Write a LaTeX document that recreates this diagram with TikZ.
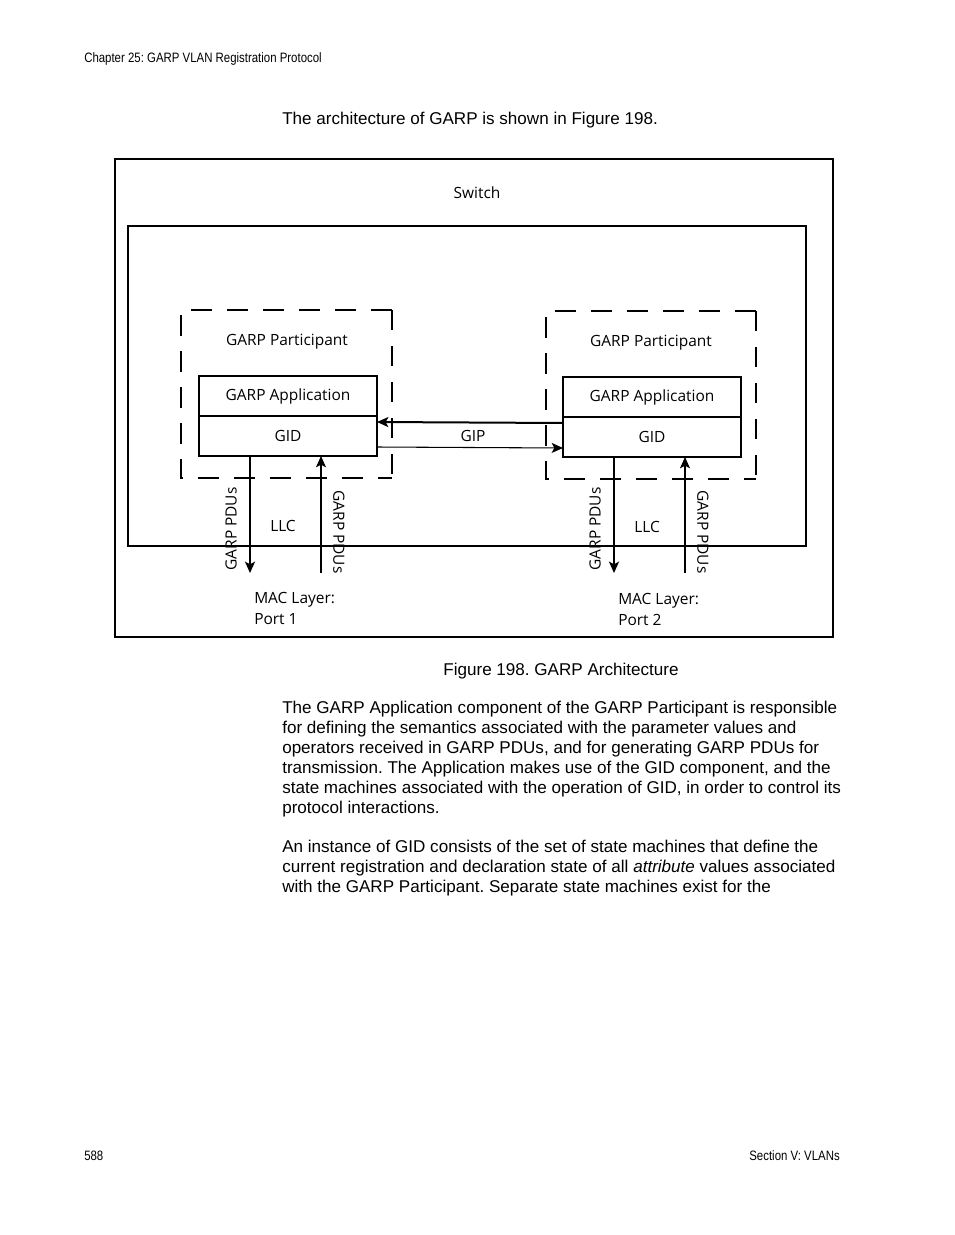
\documentclass[tikz,border=0pt]{standalone}
\usepackage{fontspec}
\setmainfont{Liberation Sans}
\newfontfamily\figfont{Open Sans}
\newfontfamily\narrowfont[FakeStretch=0.84]{Liberation Sans}
\usetikzlibrary{arrows.meta,positioning}
\frenchspacing
\tikzset{
  frame/.style={draw, line width=1.5pt},
  partbox/.style={dash pattern=on 16pt off 11pt, line width=0.8pt},
  partedge/.style={dash pattern=on 15pt off 12pt, line width=1.5pt},
  appbox/.style={draw, line width=1.5pt, minimum width=133.5pt, minimum height=30pt,
    inner sep=0pt, outer sep=0pt, font=\figfont\fontsize{11.6}{13}\selectfont},
  lbl/.style={font=\figfont\fontsize{11.6}{13}\selectfont, inner sep=0pt},
  body/.style={font=\fontsize{12.8}{15.1}\selectfont, align=left, anchor=north west, inner sep=0pt},
  small/.style={font=\narrowfont\fontsize{10.2}{12}\selectfont, inner sep=0pt},
  tip/.style={-{Stealth[length=8.5pt,width=7.5pt,inset=2pt]}}
}
\begin{document}
\begin{tikzpicture}[x=0.75pt,y=-0.75pt]
  \useasboundingbox (0,0) rectangle (954,1235);
  \node[small, anchor=west] (chap) at (84,59) {Chapter 25: GARP VLAN Registration Protocol};
  \node[body, anchor=west] (intro) at (282,120) {The architecture of GARP is shown in Figure 198.};

  \draw[frame] (115,159) rectangle (833,637);
  \draw[frame] (128,226) rectangle (806,546);
  \node[lbl] (switch) at (477,193) {Switch};

  % participants
  \draw[partbox] (392,310) -- (181,310) -- (181,478) -- (392,478);
  \draw[partedge] (392,310) -- (392,478);
  \draw[partbox] (756,311) -- (546,311) -- (546,479) -- (756,479);
  \draw[partedge] (756,311) -- (756,479);
  \node[lbl] (partL) at (287,342) {GARP Participant};
  \node[lbl] (partR) at (651,343) {GARP Participant};

  \node[appbox] (appL) at (288,396) {GARP Application};
  \node[appbox, below=0pt of appL] (gidL) {GID};
  \node[appbox] (appR) at (652,397) {GARP Application};
  \node[appbox, below=0pt of appR] (gidR) {GID};

  \begin{scope}[tip]
    \draw[line width=1.5pt] ([yshift=10.5pt]gidR.west) -- ([yshift=10.5pt]gidL.east);
    \draw[line width=0.8pt] ([yshift=-8.25pt]gidL.east) -- ([yshift=-8.25pt]gidR.west);
  \end{scope}
  \node[lbl] (gip) at (473,436) {GIP};

  % ports
  \coordinate (outL) at (250,573);
  \coordinate (inL) at (321,573);
  \coordinate (outR) at (614,573);
  \coordinate (inR) at (685,573);
  \begin{scope}[tip]
    \draw[line width=1.5pt] ([xshift=-28.5pt]gidL.south) -- (outL);
    \draw[line width=0.8pt] (inL) -- ([xshift=24.75pt]gidL.south);
    \draw[line width=1.5pt] ([xshift=-28.5pt]gidR.south) -- (outR);
    \draw[line width=0.8pt] (inR) -- ([xshift=24.75pt]gidR.south);
  \end{scope}
  \node[lbl, rotate=90] (pduoutL) at (231,529) {GARP PDUs};
  \node[lbl, rotate=-90] (pduinL) at (339,532) {GARP PDUs};
  \node[lbl] (llcL) at (283,526) {LLC};
  \node[lbl, rotate=90] (pduoutR) at (595,529) {GARP PDUs};
  \node[lbl, rotate=-90] (pduinR) at (703,532) {GARP PDUs};
  \node[lbl] (llcR) at (647,527) {LLC};
  \node[lbl, align=left, anchor=west, font=\figfont\fontsize{11.6}{15.75}\selectfont] (macL) at (254,608) {MAC Layer:\\Port 1};
  \node[lbl, align=left, anchor=west, font=\figfont\fontsize{11.6}{15.75}\selectfont] (macR) at (618,609) {MAC Layer:\\Port 2};

  \node[body, anchor=center] (caption) at (561,671) {Figure 198. GARP Architecture};

  \node[body] (para1) at (282,700.5) {The GARP Application component of the GARP Participant is responsible\\
    for defining the semantics associated with the parameter values and\\
    operators received in GARP PDUs, and for generating GARP PDUs for\\
    transmission. The Application makes use of the GID component, and the\\
    state machines associated with the operation of GID, in order to control its\\
    protocol interactions.};
  \node[body] (para2) at (282,839.5) {An instance of GID consists of the set of state machines that define the\\
    current registration and declaration state of all \textit{attribute} values associated\\
    with the GARP Participant. Separate state machines exist for the};

  \node[small, anchor=west] (page) at (84,1156) {588};
  \node[small, anchor=east] (section) at (840,1156) {Section V: VLANs};
\end{tikzpicture}
\end{document}
